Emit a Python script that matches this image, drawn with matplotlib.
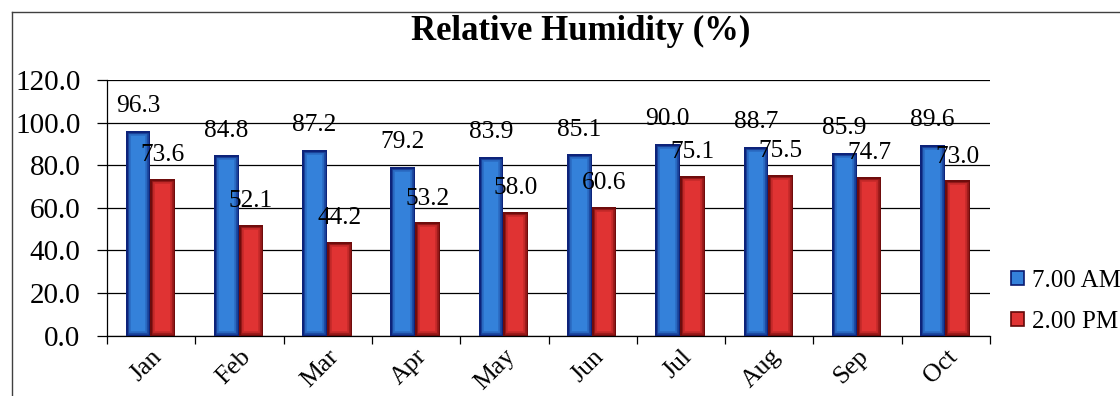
import matplotlib
matplotlib.use("Agg")
import matplotlib.pyplot as plt
from matplotlib.patches import Rectangle
from matplotlib.lines import Line2D
import numpy as np

months = ["Jan", "Feb", "Mar", "Apr", "May", "Jun", "Jul", "Aug", "Sep", "Oct"]
rh_7am = [96.3, 84.8, 87.2, 79.2, 83.9, 85.1, 90.0, 88.7, 85.9, 89.6]
rh_2pm = [73.6, 52.1, 44.2, 53.2, 58.0, 60.6, 75.1, 75.5, 74.7, 73.0]
y_ticks = [0, 20, 40, 60, 80, 100, 120]
series_names = ["7.00 AM", "2.00 PM"]

BLUE = "#3481da"
BLUE_DARK = "#0a1a70"
RED = "#e03333"
RED_DARK = "#640808"
SERIF = ["Liberation Serif", "DejaVu Serif"]

plt.rcParams["font.family"] = SERIF

W, H = 1120, 396
fig = plt.figure(figsize=(W / 100, H / 100), dpi=100)
ax = fig.add_axes([107 / W, 1 - 335.7 / H, (990 - 107) / W, (335.7 - 80) / H])


def bevel(bars, dark):
    # darken the rim of every bar, clipped to the bar so it shades inwards
    for b in bars:
        for lw, a in [(7, 0.2), (4.5, 0.4), (2.5, 0.8)]:
            r = Rectangle(b.get_xy(), b.get_width(), b.get_height(),
                          fill=False, edgecolor=dark, linewidth=lw, alpha=a,
                          zorder=b.get_zorder() + 0.1)
            ax.add_patch(r)
            r.set_clip_path(b)


x = np.arange(len(months)) + 0.49
bw = 0.28
b1 = ax.bar(x - bw / 2, rh_7am, bw, color=BLUE, zorder=3, linewidth=0)
b2 = ax.bar(x + bw / 2, rh_2pm, bw, color=RED, zorder=3, linewidth=0)
bevel(b1, BLUE_DARK)
bevel(b2, RED_DARK)

for xi, v in zip(x - bw / 2, rh_7am):
    ax.annotate(f"{v:.1f}", (xi, v), xytext=(0, 13.3), textcoords="offset points",
                ha="center", va="baseline", fontsize=18.3, zorder=5)
for xi, v in zip(x + bw / 2, rh_2pm):
    ax.annotate(f"{v:.1f}", (xi, v), xytext=(0, 12.7), textcoords="offset points",
                ha="center", va="baseline", fontsize=18.3, zorder=5)

ax.set_xlim(0, len(months))
ax.set_ylim(0, 120)
ax.set_yticks(y_ticks)
ax.set_yticklabels([f"{t:.1f}" for t in y_ticks], fontsize=21)
ax.yaxis.grid(True, color="black", linewidth=0.9, zorder=0)
ax.set_axisbelow(True)

ax.set_xticks(np.arange(len(months) + 1))
ax.set_xticklabels([])
ax.set_xticks(np.arange(len(months)) + 0.5, minor=True)
ax.set_xticklabels(months, minor=True, rotation=45, ha="right", va="top",
                   rotation_mode="anchor", fontsize=18.5)
ax.tick_params(axis="x", which="major", length=6, width=0.9, direction="out")
ax.tick_params(axis="x", which="minor", length=0, pad=7)
ax.tick_params(axis="y", length=7.2, width=0.9, direction="out", pad=12)

for s in ["top", "right"]:
    ax.spines[s].set_visible(False)
for s in ["left", "bottom"]:
    ax.spines[s].set_linewidth(0.9)
    ax.spines[s].set_color("black")

fig.text(581 / W, 1 - 40 / H, "Relative Humidity (%)", ha="center", va="baseline",
         fontsize=25, fontweight="bold")

# legend
handles = [Rectangle((0, 0), 1, 1, facecolor=BLUE, edgecolor=BLUE_DARK, linewidth=1.2),
           Rectangle((0, 0), 1, 1, facecolor=RED, edgecolor=RED_DARK, linewidth=1.2)]
fig.legend(handles, series_names, loc="upper left",
           bbox_to_anchor=(1011 / W, 1 - 270 / H), frameon=False,
           fontsize=18, handlelength=0.5, handleheight=0.5, handletextpad=0.35,
           labelspacing=0.75, borderpad=0, borderaxespad=0)

# outer chart frame
fx, fy = 12 / W, 1 - 11.5 / H
fig.add_artist(Line2D([fx, fx], [0, fy], transform=fig.transFigure, color="#404040", lw=1))
fig.add_artist(Line2D([fx, 1], [fy, fy], transform=fig.transFigure, color="#404040", lw=1))

fig.savefig("out.png", dpi=100, facecolor="white")
